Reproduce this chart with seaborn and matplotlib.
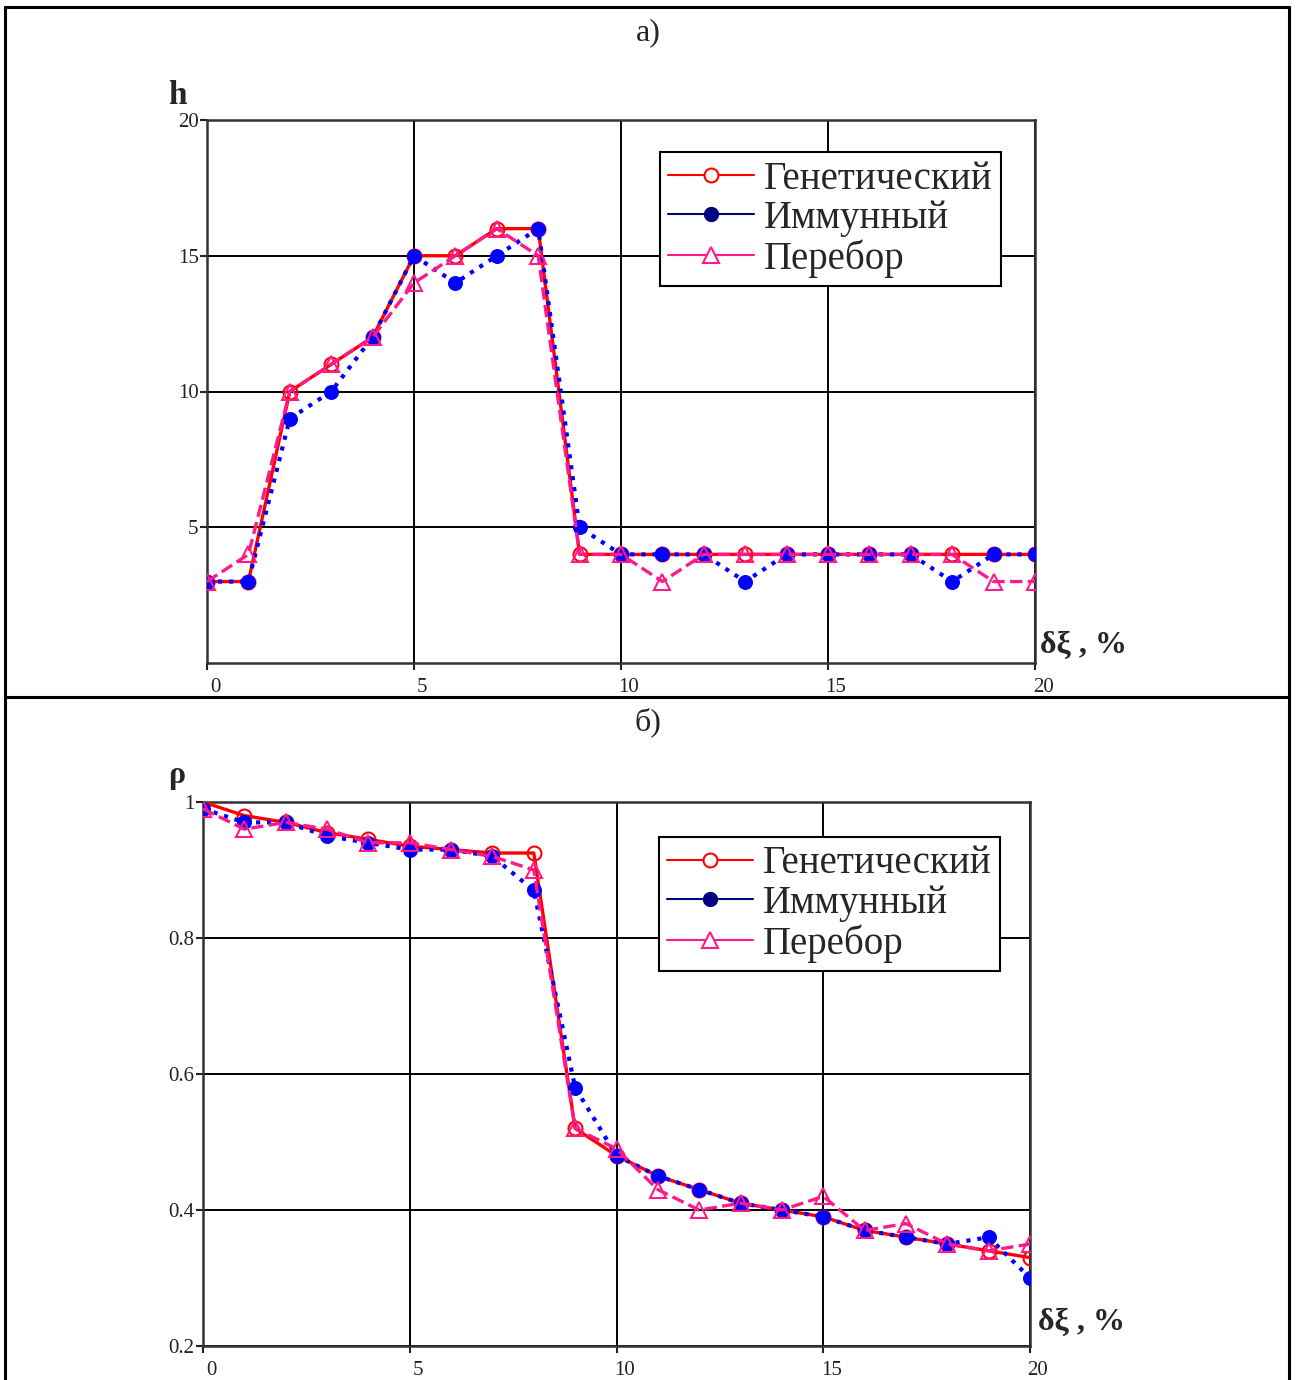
import matplotlib
matplotlib.use("Agg")
import matplotlib.pyplot as plt
from matplotlib.lines import Line2D
from matplotlib.transforms import ScaledTranslation
import pandas as pd
import seaborn as sns

# x values: relative error, %
delta = list(range(21))

# a) h
h_genetic = [3, 3, 10, 11, 12, 15, 15, 16, 16, 4, 4, 4, 4, 4, 4, 4, 4, 4, 4, 4, 4]
h_immune = [3, 3, 9, 10, 12, 15, 14, 15, 16, 5, 4, 4, 4, 3, 4, 4, 4, 4, 3, 4, 4]
h_search = [3, 4, 10, 11, 12, 14, 15, 16, 15, 4, 4, 3, 4, 4, 4, 4, 4, 4, 4, 3, 3]

# b) rho
rho_genetic = [1.0, 0.98, 0.97, 0.955, 0.945, 0.935, 0.93, 0.925, 0.925, 0.52, 0.48,
               0.45, 0.43, 0.41, 0.40, 0.39, 0.37, 0.36, 0.35, 0.34, 0.33]
rho_immune = [0.99, 0.97, 0.97, 0.95, 0.94, 0.93, 0.93, 0.92, 0.87, 0.58, 0.48,
              0.45, 0.43, 0.41, 0.40, 0.39, 0.37, 0.36, 0.35, 0.36, 0.30]
rho_search = [0.99, 0.96, 0.97, 0.96, 0.94, 0.94, 0.93, 0.92, 0.90, 0.52, 0.49,
              0.43, 0.40, 0.41, 0.40, 0.42, 0.37, 0.38, 0.35, 0.34, 0.35]

labels = ["Генетический", "Иммунный", "Перебор"]

sns.set_style("white")
plt.rcParams["font.family"] = ["Liberation Serif", "DejaVu Serif"]

RED = "#ff0000"
BLUE = "#0000ff"
PINK = "#ff1a8c"

fig = plt.figure(figsize=(12.97, 13.8), dpi=100)


def draw_panel(ax, gen, imm, srch, ylim, yticks, yticklabels):
    df = pd.DataFrame({"x": delta, "gen": gen, "imm": imm, "srch": srch})
    sns.lineplot(data=df, x="x", y="gen", ax=ax, color=RED, lw=2.4, marker="o",
                 markersize=10, markerfacecolor="none", markeredgecolor=RED,
                 markeredgewidth=1.5, zorder=3)
    sns.lineplot(data=df, x="x", y="imm", ax=ax, color=BLUE, lw=3, linestyle=":",
                 marker="o", markersize=10, markerfacecolor=BLUE,
                 markeredgecolor=BLUE, zorder=4)
    sns.lineplot(data=df, x="x", y="srch", ax=ax, color=PINK, lw=2.4, linestyle="--",
                 marker="^", markersize=11, markerfacecolor="none",
                 markeredgecolor=PINK, markeredgewidth=1.5, zorder=5)
    ax.set_xlim(0, 20)
    ax.set_ylim(*ylim)
    ax.set_xticks([0, 5, 10, 15, 20])
    ax.set_yticks(yticks)
    ax.set_yticklabels(yticklabels)
    ax.set_xlabel("")
    ax.set_ylabel("")
    ax.grid(True, color="black", lw=1.4)
    for s in ax.spines.values():
        s.set_color("#333333")
        s.set_linewidth(1.8)
    ax.tick_params(direction="out", length=5, width=1.5, colors="#222222",
                   labelsize=15, pad=1, bottom=True, left=True)
    ax.tick_params(axis="x", pad=6)
    for lab in ax.get_xticklabels():
        lab.set_transform(lab.get_transform() + ScaledTranslation(0.08, 0, fig.dpi_scale_trans))

    handles = [
        Line2D([], [], color=RED, lw=1.5, marker="o", markersize=10,
               markerfacecolor="white", markeredgecolor=RED, markeredgewidth=1.5),
        Line2D([], [], color="#000080", lw=1.5, marker="o", markersize=10,
               markerfacecolor="#000080", markeredgecolor="#000080"),
        Line2D([], [], color=PINK, lw=1.5, marker="^", markersize=11,
               markerfacecolor="white", markeredgecolor=PINK, markeredgewidth=1.5),
    ]
    return handles


legend_kw = dict(loc="upper left", borderaxespad=0, fontsize=28, numpoints=1,
                 handlelength=2.2, handletextpad=0.25, labelspacing=0.06,
                 borderpad=0.22, fancybox=False, edgecolor="black", framealpha=1)

ax1 = fig.add_axes([207 / 1297, 1 - 663 / 1380, 828 / 1297, 543 / 1380])
hnd = draw_panel(ax1, h_genetic, h_immune, h_search, (0, 20), [5, 10, 15, 20],
                 ["5", "10", "15", "20"])
ax1.legend(hnd, labels, bbox_to_anchor=(0.547, 0.941), **legend_kw)
ax1.get_legend().get_frame().set_linewidth(1.5)

ax2 = fig.add_axes([203 / 1297, 1 - 1346 / 1380, 827 / 1297, 544 / 1380])
hnd = draw_panel(ax2, rho_genetic, rho_immune, rho_search, (0.2, 1.0),
                 [0.2, 0.4, 0.6, 0.8, 1.0], ["0.2", "0.4", "0.6", "0.8", "1"])
ax2.legend(hnd, labels, bbox_to_anchor=(0.551, 0.936), **legend_kw)
ax2.get_legend().get_frame().set_linewidth(1.5)

# panel captions and axis names
fig.text(648 / 1297, 1 - 33 / 1380, "а)", ha="center", va="center", fontsize=23)
fig.text(648 / 1297, 1 - 722 / 1380, "б)", ha="center", va="center", fontsize=23)
fig.text(177 / 1297, 1 - 95 / 1380, "h", ha="center", va="center", fontsize=24,
         fontweight="bold")
fig.text(177 / 1297, 1 - 775 / 1380, "ρ", ha="center", va="center", fontsize=23,
         fontweight="bold")
fig.text(1040 / 1297, 1 - 645 / 1380, "δξ , %", ha="left", va="center", fontsize=23,
         fontweight="bold")
fig.text(1038 / 1297, 1 - 1322 / 1380, "δξ , %", ha="left", va="center", fontsize=23,
         fontweight="bold")

# table frame around the two panels
for xs, ys in [([5, 5], [7, 1380]), ([1289, 1289], [7, 1380]), ([5, 1289], [7, 7]),
               ([5, 1289], [697, 697])]:
    fig.add_artist(Line2D([x / 1297 for x in xs], [1 - y / 1380 for y in ys],
                          color="black", lw=2.2, transform=fig.transFigure))

fig.savefig("out.png", dpi=100)
